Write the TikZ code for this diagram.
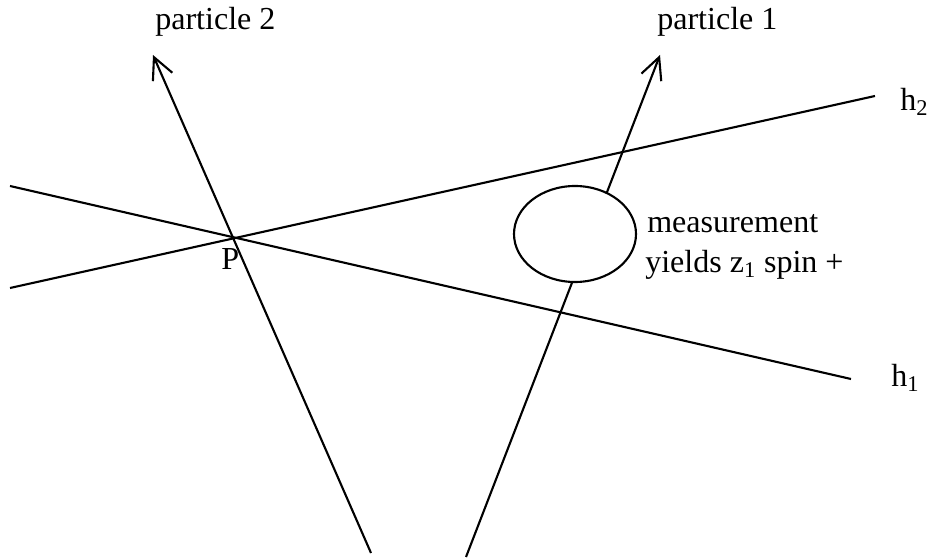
\documentclass[tikz,border=0pt]{standalone}
\usepackage{fontspec}
\setmainfont{Liberation Serif}
\usetikzlibrary{arrows.meta,shapes.geometric}
\tikzset{
  ray/.style   = {line width=1.5pt},
  track/.style = {ray, -{Straight Barb[length=5.4mm, width=5.3mm]}},
  lbl/.style   = {anchor=base west, inner sep=0pt, font=\fontsize{22.8}{27}\selectfont},
  det/.style   = {ellipse, draw, fill=white, line width=1.5pt,
                  minimum width=30.5mm, minimum height=24mm, inner sep=0pt},
}

\begin{document}
\begin{tikzpicture}[x=0.25mm, y=-0.25mm]
  \useasboundingbox (0,0) rectangle (930,558);
  % free ends of the lines
  \coordinate (h1a) at (10,186);
  \coordinate (h1b) at (851,379);
  \coordinate (h2a) at (10,288);
  \coordinate (h2b) at (875,96);
  \coordinate (p2s) at (371,553);
  \coordinate (p2e) at (153,55);
  \coordinate (p1s) at (466,557);
  \coordinate (p1e) at (660,55);

  \draw[ray] (h1a) -- (h1b);
  \draw[ray] (h2a) -- (h2b);
  \draw[track] (p2s) -- (p2e);
  \draw[track] (p1s) -- (p1e);
  \node[det] (meas) at (575,234) {};

  \node[lbl] (lblP2) at (155,30)  {particle 2};
  \node[lbl] (lblP1) at (657,30)  {particle 1};
  \node[lbl] (lblH2) at (900,111) {h\textsubscript{2}};
  \node[lbl] (lblH1) at (891,387) {h\textsubscript{1}};
  \node[lbl] (lblP)  at (221,270) {P};
  \node[lbl] (lblMeas)  at (647,233) {measurement};
  \node[lbl] (lblYield) at (645,273) {yields z\textsubscript{1} spin +};
\end{tikzpicture}
\end{document}
